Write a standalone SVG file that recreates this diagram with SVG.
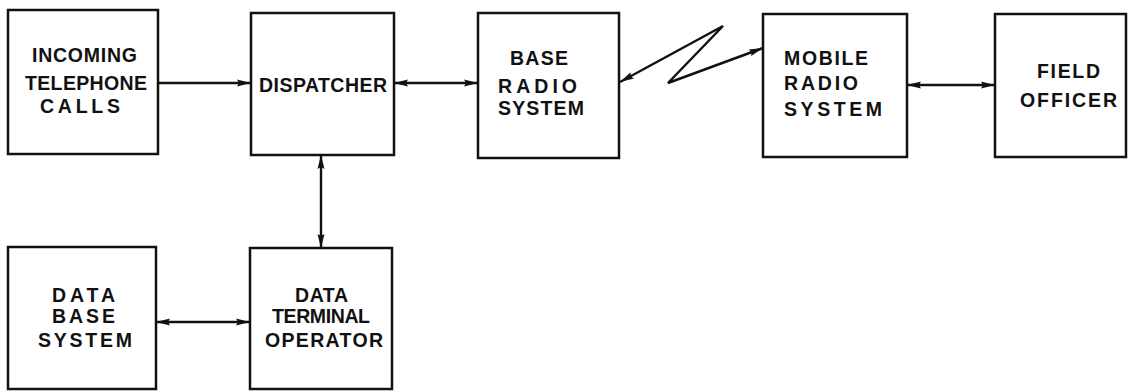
<svg xmlns="http://www.w3.org/2000/svg" width="1130" height="392" viewBox="0 0 1130 392">
<style>
.box{fill:#fff;stroke:#111;stroke-width:2.5}
.t{font-family:"Liberation Sans",Arial,sans-serif;font-weight:bold;font-size:19.5px;fill:#111}
.c{stroke:#111;stroke-width:2.4;fill:none}
</style>
<defs>
<marker id="ah" viewBox="0 0 14 8" refX="14" refY="4" markerWidth="14" markerHeight="8" markerUnits="userSpaceOnUse" orient="auto-start-reverse">
<path d="M0,0.5 L14,4 L0,7.5 L2,4 Z" fill="#111"/>
</marker>
</defs>
<rect width="1130" height="392" fill="#fff"/>
<g id="incoming">
<rect class="box" x="8" y="10" width="150" height="144"/>
<text class="t" x="32" y="62" textLength="105" lengthAdjust="spacing">INCOMING</text>
<text class="t" x="25" y="90" textLength="122" lengthAdjust="spacing">TELEPHONE</text>
<text class="t" x="40" y="113" textLength="80" lengthAdjust="spacing">CALLS</text>
</g>
<g id="dispatcher">
<rect class="box" x="251" y="13" width="143" height="142"/>
<text class="t" x="259" y="92" textLength="128" lengthAdjust="spacing">DISPATCHER</text>
</g>
<g id="base-radio">
<rect class="box" x="478" y="13" width="141" height="145"/>
<text class="t" x="510" y="65" textLength="58" lengthAdjust="spacing">BASE</text>
<text class="t" x="498" y="93" textLength="79" lengthAdjust="spacing">RADIO</text>
<text class="t" x="498" y="115" textLength="86" lengthAdjust="spacing">SYSTEM</text>
</g>
<g id="mobile-radio">
<rect class="box" x="763" y="14" width="144" height="143"/>
<text class="t" x="784" y="65" textLength="84" lengthAdjust="spacing">MOBILE</text>
<text class="t" x="784" y="90" textLength="74" lengthAdjust="spacing">RADIO</text>
<text class="t" x="784" y="116" textLength="98" lengthAdjust="spacing">SYSTEM</text>
</g>
<g id="field-officer">
<rect class="box" x="995" y="14" width="131" height="143"/>
<text class="t" x="1037" y="78" textLength="63" lengthAdjust="spacing">FIELD</text>
<text class="t" x="1020" y="107" textLength="97" lengthAdjust="spacing">OFFICER</text>
</g>
<g id="data-base">
<rect class="box" x="8" y="247" width="148" height="142"/>
<text class="t" x="52" y="302" textLength="63" lengthAdjust="spacing">DATA</text>
<text class="t" x="52" y="323" textLength="63" lengthAdjust="spacing">BASE</text>
<text class="t" x="38" y="347" textLength="94" lengthAdjust="spacing">SYSTEM</text>
</g>
<g id="data-terminal">
<rect class="box" x="250" y="248" width="142" height="141"/>
<text class="t" x="295" y="302" textLength="53" lengthAdjust="spacing">DATA</text>
<text class="t" x="272" y="323" textLength="98" lengthAdjust="spacing">TERMINAL</text>
<text class="t" x="265" y="347" textLength="118" lengthAdjust="spacing">OPERATOR</text>
</g>
<g id="connectors">
<line class="c" x1="158" y1="83" x2="251" y2="83" marker-end="url(#ah)"/>
<line class="c" x1="394" y1="83" x2="478" y2="83" marker-start="url(#ah)" marker-end="url(#ah)"/>
<line class="c" x1="907" y1="85" x2="995" y2="85" marker-start="url(#ah)" marker-end="url(#ah)"/>
<line class="c" x1="321" y1="155" x2="321" y2="248" marker-start="url(#ah)" marker-end="url(#ah)"/>
<line class="c" x1="156" y1="322" x2="250" y2="322" marker-start="url(#ah)" marker-end="url(#ah)"/>
<polyline class="c" points="620,82 723,26 668,83 763,48" marker-start="url(#ah)" marker-end="url(#ah)"/>
</g>
</svg>
